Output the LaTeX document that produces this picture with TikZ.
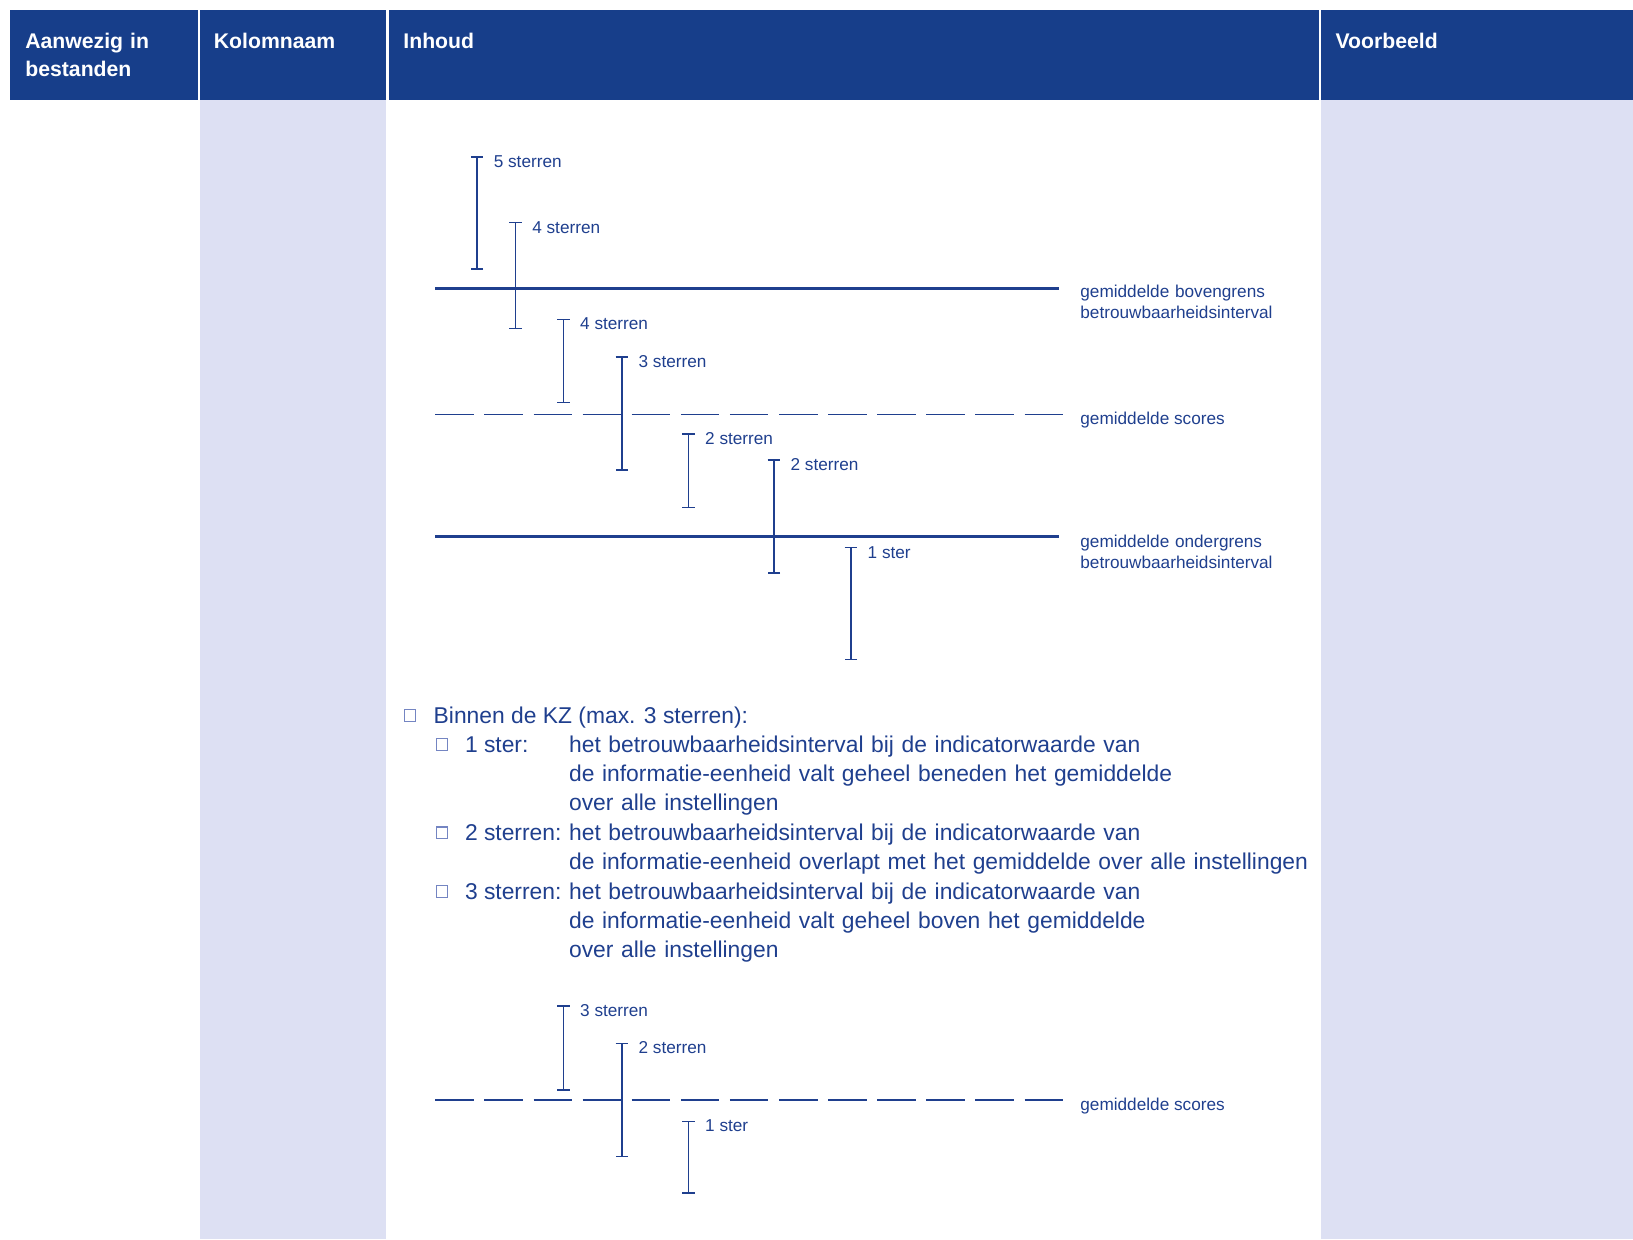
\documentclass[tikz,border=0pt]{standalone}
\usepackage{fontspec}
\setmainfont{Liberation Sans}
\usetikzlibrary{arrows.meta}
\definecolor{kzhead}{HTML}{173E8A}
\definecolor{kzblue}{HTML}{1F3F8E}
\definecolor{kzlav}{HTML}{DDE0F3}
\definecolor{kzbullet}{HTML}{7485C2}
\tikzset{
  head/.style={anchor=base west, text=white, inner sep=0pt, text width=90pt, align=left,
    font=\fontsize{10.6}{14.35}\selectfont\bfseries},
  lbl/.style={anchor=base west, text=kzblue, inner sep=0pt, align=left,
    font=\fontsize{8.6}{10.5}\selectfont},
  body/.style={anchor=base west, text=kzblue, inner sep=0pt, align=left,
    font=\fontsize{11.42}{14.65}\selectfont},
  errbar/.style={draw=kzblue, line width=0.75pt, {Bar[width=6.2pt]}-{Bar[width=6.2pt]}},
  boundline/.style={draw=kzblue, line width=1.4pt},
  meanline/.style={draw=kzblue, line width=0.75pt, dash pattern=on 19.25pt off 5.3pt},
  sqbullet/.style={draw=kzbullet, line width=0.6pt, minimum size=5.8pt, inner sep=0pt}
}
\begin{document}
\begin{tikzpicture}[x=0.5pt,y=-0.5pt]
  \useasboundingbox (0,0) rectangle (1633,1239);
  % columns
  \fill[kzlav] (200,100) rectangle (386.4,1239);
  \fill[kzlav] (1320.6,100) rectangle (1633,1239);
  \fill[kzhead] (10.4,10.4) rectangle (198,100);
  \fill[kzhead] (200,10.4) rectangle (386.4,100);
  \fill[kzhead] (388.5,10.4) rectangle (1318.5,100);
  \fill[kzhead] (1320.6,10.4) rectangle (1633,100);
  \node[head] (hAanwezig) at (25,48) {Aanwezig in\\bestanden};
  \node[head] (hKolom) at (213.5,48) {Kolomnaam};
  \node[head] (hInhoud) at (403,48) {Inhoud};
  \node[head] (hVoorbeeld) at (1335.2,48) {Voorbeeld};

  % upper chart
  \draw[boundline] (435.3,288.5) -- (1059.2,288.5);
  \draw[meanline] (435.3,414.5) -- (1063,414.5);
  \draw[boundline] (435.3,536.4) -- (1059.2,536.4);
  \node[lbl, text width=110pt] (lBoven) at (1080,297) {gemiddelde bovengrens\\betrouwbaarheidsinterval};
  \node[lbl] (lScores) at (1080,424) {gemiddelde scores};
  \node[lbl, text width=110pt] (lOnder) at (1080,547.5) {gemiddelde ondergrens\\betrouwbaarheidsinterval};
  \foreach \x/\t/\b/\lab [count=\i] in {
      477/156.2/269.7/5 sterren, 515.5/221.8/329.1/4 sterren,
      563.4/318.7/403/4 sterren, 621.8/356.2/470.8/3 sterren,
      688.4/433.3/508.2/2 sterren, 773.8/459.3/573.9/2 sterren,
      850.9/546.8/660.3/1 ster} {
    \coordinate (top\i) at (\x,\t);
    \coordinate (bot\i) at (\x,\b);
    \draw[errbar] (top\i) -- (bot\i);
    \node[lbl] (bar\i) at ([xshift=8.2pt,yshift=-5.6pt]top\i) {\lab};
  }

  % star rules
  \node[sqbullet] (bKZ) at (410,715.5) {};
  \node[body] (tKZ) at (433.3,723.3) {Binnen de KZ (max. 3 sterren):};
  \node[sqbullet] (b1) at (442,744.5) {};
  \node[body] (t1) at (464.6,752.3) {1 ster:};
  \node[body, text width=400pt] (d1) at (568.7,752.3)
    {het betrouwbaarheidsinterval bij de indicatorwaarde van\\
     de informatie-eenheid valt geheel beneden het gemiddelde\\
     over alle instellingen};
  \node[sqbullet] (b2) at (442,832.7) {};
  \node[body] (t2) at (464.6,840.5) {2 sterren:};
  \node[body, text width=400pt] (d2) at (568.7,840.5)
    {het betrouwbaarheidsinterval bij de indicatorwaarde van\\
     de informatie-eenheid overlapt met het gemiddelde over alle instellingen};
  \node[sqbullet] (b3) at (442,891.5) {};
  \node[body] (t3) at (464.6,899.3) {3 sterren:};
  \node[body, text width=400pt] (d3) at (568.7,899.3)
    {het betrouwbaarheidsinterval bij de indicatorwaarde van\\
     de informatie-eenheid valt geheel boven het gemiddelde\\
     over alle instellingen};

  % lower chart
  \draw[meanline] (435.3,1099.8) -- (1063,1099.8);
  \node[lbl] (lScoresKZ) at (1080,1110.6) {gemiddelde scores};
  \foreach \x/\t/\b/\lab [count=\i] in {
      563.4/1005/1090.5/3 sterren, 621.8/1042.6/1157.1/2 sterren,
      688.4/1120.6/1193.5/1 ster} {
    \coordinate (ktop\i) at (\x,\t);
    \coordinate (kbot\i) at (\x,\b);
    \draw[errbar] (ktop\i) -- (kbot\i);
    \node[lbl] (kbar\i) at ([xshift=8.2pt,yshift=-5.6pt]ktop\i) {\lab};
  }
\end{tikzpicture}
\end{document}
